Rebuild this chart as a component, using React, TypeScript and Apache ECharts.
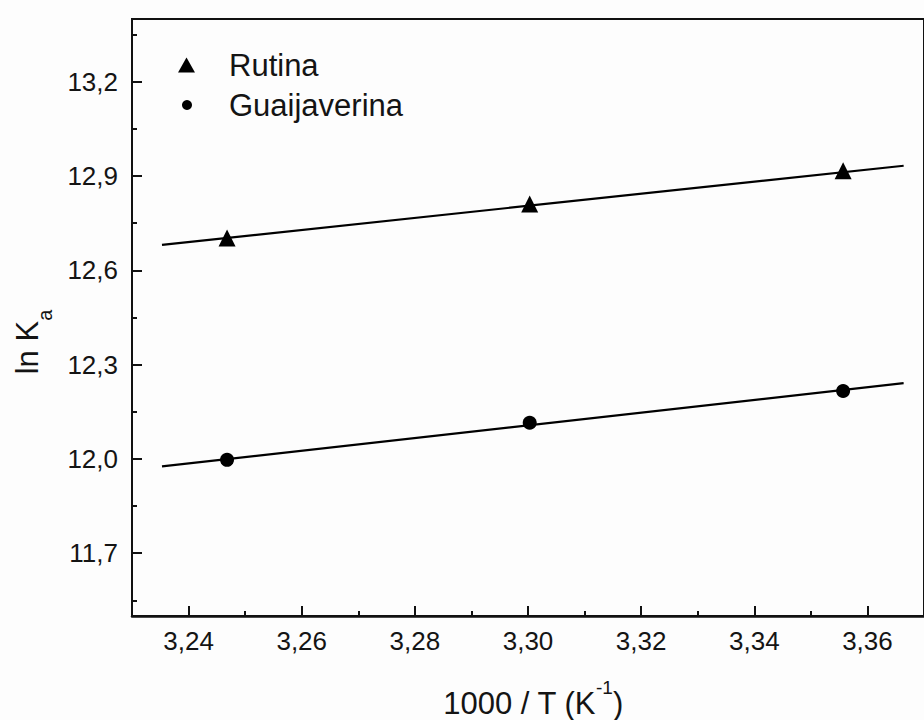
import React, { useEffect, useRef } from "react";
import * as echarts from "echarts";

// Tick values
const xTickValues = [3.24, 3.26, 3.28, 3.3, 3.32, 3.34, 3.36];
const xMinorValues = [3.25, 3.27, 3.29, 3.31, 3.33, 3.35];
const yTickValues = [11.7, 12.0, 12.3, 12.6, 12.9, 13.2];
const yMinorValues = [11.55, 11.85, 12.15, 12.45, 12.75, 13.05, 13.35];

// Data (1000/T, ln Ka)
const invT = [3.2468, 3.3003, 3.3557];
const rutina = [12.703, 12.811, 12.917];
const guaijaverina = [11.997, 12.115, 12.216];

// Fitted lines (end points)
const fitX = [3.2353, 3.3664];
const rutinaFit = [12.681, 12.933];
const guaijaverinaFit = [11.976, 12.241];

const FONT = "Liberation Sans, Arial, sans-serif";
const TXT = "#141414";

export default function App() {
  const ref = useRef<HTMLDivElement>(null);

  useEffect(() => {
    if (!ref.current) return;
    const chart = echarts.init(ref.current, undefined, { renderer: "svg" });

    const pairs = (xs: number[], ys: number[]) => xs.map((x, i) => [x, ys[i]]);

    const option: any = {
      animation: false,
      backgroundColor: "#fdfdfd",
      grid: {
        left: 132,
        top: 19,
        right: -10,
        bottom: 104,
        show: true,
        borderColor: "#111",
        borderWidth: 2,
        containLabel: false,
      },
      legend: [
        {
          data: [{ name: "Rutina", icon: "triangle" }],
          left: 178,
          top: 49,
          padding: 0,
          itemWidth: 17,
          itemHeight: 15,
          textStyle: {
            fontFamily: FONT,
            fontSize: 31,
            color: TXT,
            lineHeight: 32,
            padding: [0, 0, 0, 29],
          },
        },
        {
          data: [{ name: "Guaijaverina", icon: "circle" }],
          left: 182,
          top: 89,
          padding: 0,
          itemWidth: 10,
          itemHeight: 10,
          textStyle: {
            fontFamily: FONT,
            fontSize: 31,
            color: TXT,
            lineHeight: 32,
            padding: [0, 0, 0, 32],
          },
        },
      ],
      xAxis: [
        {
          type: "value",
          min: 3.23,
          max: 3.37,
          position: "bottom",
          axisLine: { show: true, lineStyle: { color: "#111", width: 2.5 } },
          axisTick: {
            show: true,
            inside: true,
            length: 10,
            customValues: xTickValues,
            lineStyle: { color: "#111", width: 2 },
          },
          axisLabel: {
            show: true,
            customValues: xTickValues,
            margin: 12,
            fontFamily: FONT,
            fontSize: 26,
            color: TXT,
            formatter: (v: number) => v.toFixed(2).replace(".", ","),
          },
          splitLine: { show: false },
        },
        {
          type: "value",
          min: 3.23,
          max: 3.37,
          position: "bottom",
          axisLine: { show: false },
          axisTick: {
            show: true,
            inside: true,
            length: 5,
            customValues: xMinorValues,
            lineStyle: { color: "#111", width: 2 },
          },
          axisLabel: { show: false },
          splitLine: { show: false },
        },
      ],
      yAxis: [
        {
          type: "value",
          min: 11.5,
          max: 13.4,
          position: "left",
          axisLine: { show: true, lineStyle: { color: "#111", width: 2 } },
          axisTick: {
            show: true,
            inside: true,
            length: 10,
            customValues: yTickValues,
            lineStyle: { color: "#111", width: 2 },
          },
          axisLabel: {
            show: true,
            customValues: yTickValues,
            margin: 14,
            fontFamily: FONT,
            fontSize: 26,
            color: TXT,
            formatter: (v: number) => v.toFixed(1).replace(".", ","),
          },
          splitLine: { show: false },
        },
        {
          type: "value",
          min: 11.5,
          max: 13.4,
          position: "left",
          axisLine: { show: false },
          axisTick: {
            show: true,
            inside: true,
            length: 5,
            customValues: yMinorValues,
            lineStyle: { color: "#111", width: 2 },
          },
          axisLabel: { show: false },
          splitLine: { show: false },
        },
      ],
      graphic: [
        {
          type: "text",
          x: 533,
          y: 719,
          style: {
            text: "{b|1000 / T (K}{s|-1}{b|)}",
            align: "center",
            verticalAlign: "bottom",
            fill: TXT,
            rich: {
              b: {
                fontFamily: FONT,
                fontSize: 31,
                lineHeight: 32,
                verticalAlign: "bottom",
                fill: TXT,
              },
              s: {
                fontFamily: FONT,
                fontSize: 19,
                verticalAlign: "top",
                padding: [0, 0, 22, 0],
                fill: TXT,
              },
            },
          },
        },
        {
          type: "text",
          x: 27,
          y: 342,
          rotation: Math.PI / 2,
          style: {
            text: "{b|ln K}{s|a}",
            align: "center",
            verticalAlign: "middle",
            fill: TXT,
            rich: {
              b: { fontFamily: FONT, fontSize: 31, lineHeight: 56, fill: TXT },
              s: { fontFamily: FONT, fontSize: 20, verticalAlign: "bottom", fill: TXT },
            },
          },
        },
      ],
      series: [
        {
          name: "Rutina fit",
          type: "line",
          data: pairs(fitX, rutinaFit),
          showSymbol: false,
          symbol: "none",
          lineStyle: { color: "#000", width: 2.2 },
          silent: true,
          z: 1,
        },
        {
          name: "Guaijaverina fit",
          type: "line",
          data: pairs(fitX, guaijaverinaFit),
          showSymbol: false,
          symbol: "none",
          lineStyle: { color: "#000", width: 2.2 },
          silent: true,
          z: 1,
        },
        {
          name: "Rutina",
          type: "scatter",
          data: pairs(invT, rutina),
          symbol: "triangle",
          symbolSize: 17,
          itemStyle: { color: "#000", opacity: 1 },
          z: 3,
        },
        {
          name: "Guaijaverina",
          type: "scatter",
          data: pairs(invT, guaijaverina),
          symbol: "circle",
          symbolSize: 14,
          itemStyle: { color: "#000", opacity: 1 },
          z: 3,
        },
      ],
    };

    chart.setOption(option);
    return () => chart.dispose();
  }, []);

  return (
    <div
      ref={ref}
      style={{ position: "absolute", left: 0, top: 0, width: 924, height: 720 }}
    />
  );
}
